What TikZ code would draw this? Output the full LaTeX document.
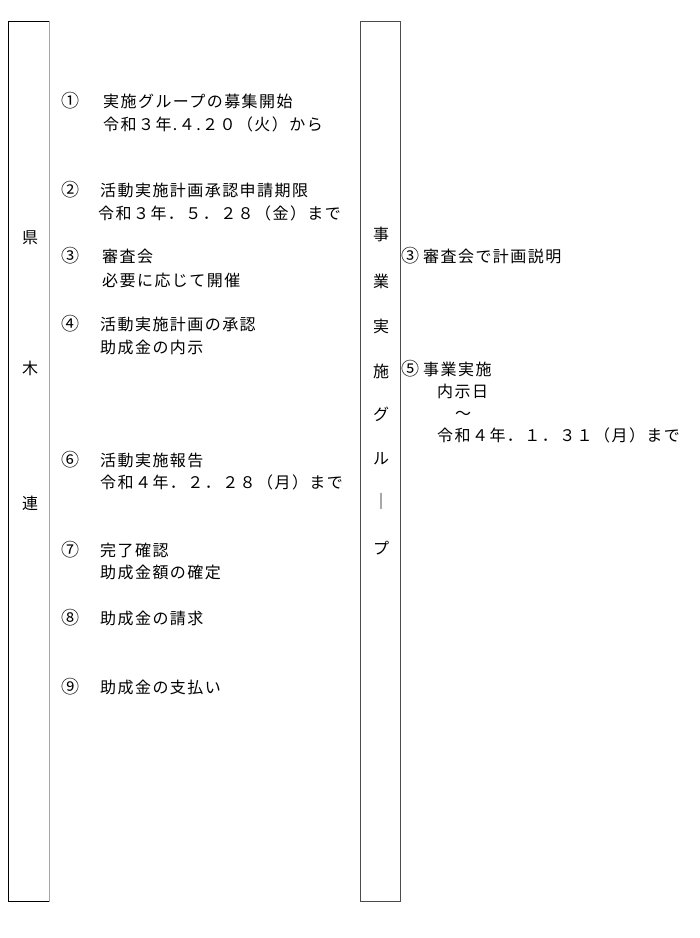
\documentclass[tikz,border=0pt]{standalone}
\usepackage{fontspec}
\setmainfont{Noto Sans CJK JP}[LetterSpace=9]
\usetikzlibrary{positioning}
\tikzset{
  lane/.style={
    rectangle,
    draw=black!70, line width=1pt,
    inner sep=0pt
  },
  lanechar/.style={anchor=base, inner sep=0pt},
  circnum/.style={anchor=base, inner sep=0pt, font=\fontsize{18}{23}\selectfont},
  entry/.style={anchor=base west, inner sep=0pt},
}

\begin{document}
\begin{tikzpicture}[x=1pt,y=-1pt,font=\fontsize{16}{23}\selectfont]
      \useasboundingbox (0,0) rectangle (700,938);

      \begin{scope}
        \node[lane, draw=black, minimum width=41pt, minimum height=880pt] (ken) at (28.5,461) {};
        \draw[black!35, line width=1.6pt] (ken.north east) -- (ken.south east);
        \node[lanechar] (ken1) at (30,243) {県};
        \node[lanechar] (ken2) at (30,374) {木};
        \node[lanechar] (ken3) at (30,509) {連};
      \end{scope}

      \begin{scope}
        \node[circnum] (n1) at (70,107) {①};
        \node[entry] (t1a) at (103,107) {実施グループの募集開始};
        \node[entry] (t1b) at (103,130) {令和３年.４.２０（火）から};
        \node[circnum] (n2) at (70,196) {②};
        \node[entry] (t2a) at (100,196) {活動実施計画承認申請期限};
        \node[entry] (t2b) at (98,219) {令和３年．５．２８（金）まで};
        \node[circnum] (n3) at (70,262) {③};
        \node[entry] (t3a) at (102,262) {審査会};
        \node[entry] (t3b) at (102,286) {必要に応じて開催};
        \node[circnum] (n4) at (70,330) {④};
        \node[entry] (t4a) at (100,330) {活動実施計画の承認};
        \node[entry] (t4b) at (100,353) {助成金の内示};
        \node[circnum] (n6) at (70,466) {⑥};
        \node[entry] (t6a) at (100,466) {活動実施報告};
        \node[entry] (t6b) at (100,488) {令和４年．２．２８（月）まで};
        \node[circnum] (n7) at (70,556) {⑦};
        \node[entry] (t7a) at (100,556) {完了確認};
        \node[entry] (t7b) at (100,578) {助成金額の確定};
        \node[circnum] (n8) at (70,624) {⑧};
        \node[entry] (t8a) at (100,624) {助成金の請求};
        \node[circnum] (n9) at (70,693) {⑨};
        \node[entry] (t9a) at (100,693) {助成金の支払い};
      \end{scope}

      \begin{scope}
        \node[lane, minimum width=40pt, minimum height=880pt] (grp) at (380,461) {};
        \node[lanechar] (grp1) at (381,240) {事};
        \node[lanechar] (grp2) at (381,287) {業};
        \node[lanechar] (grp3) at (381,332) {実};
        \node[lanechar] (grp4) at (381,377) {施};
        \node[lanechar] (grp5) at (381,420) {グ};
        \node[lanechar] (grp6) at (381,464) {ル};
        \node[lanechar] (grp7) at (381,507) {｜};
        \node[lanechar] (grp8) at (381,554) {プ};
      \end{scope}

      \begin{scope}
        \node[circnum] (m3) at (410,262) {③};
        \node[entry] (s3a) at (423,262) {審査会で計画説明};
        \node[circnum] (m5) at (410,375) {⑤};
        \node[entry] (s5a) at (423,375) {事業実施};
        \node[entry] (s5b) at (437,397) {内示日};
        \node[entry] (s5c) at (455,419) {～};
        \node[entry] (s5d) at (437,441) {令和４年．１．３１（月）まで};
      \end{scope}
    \end{tikzpicture}
\end{document}
